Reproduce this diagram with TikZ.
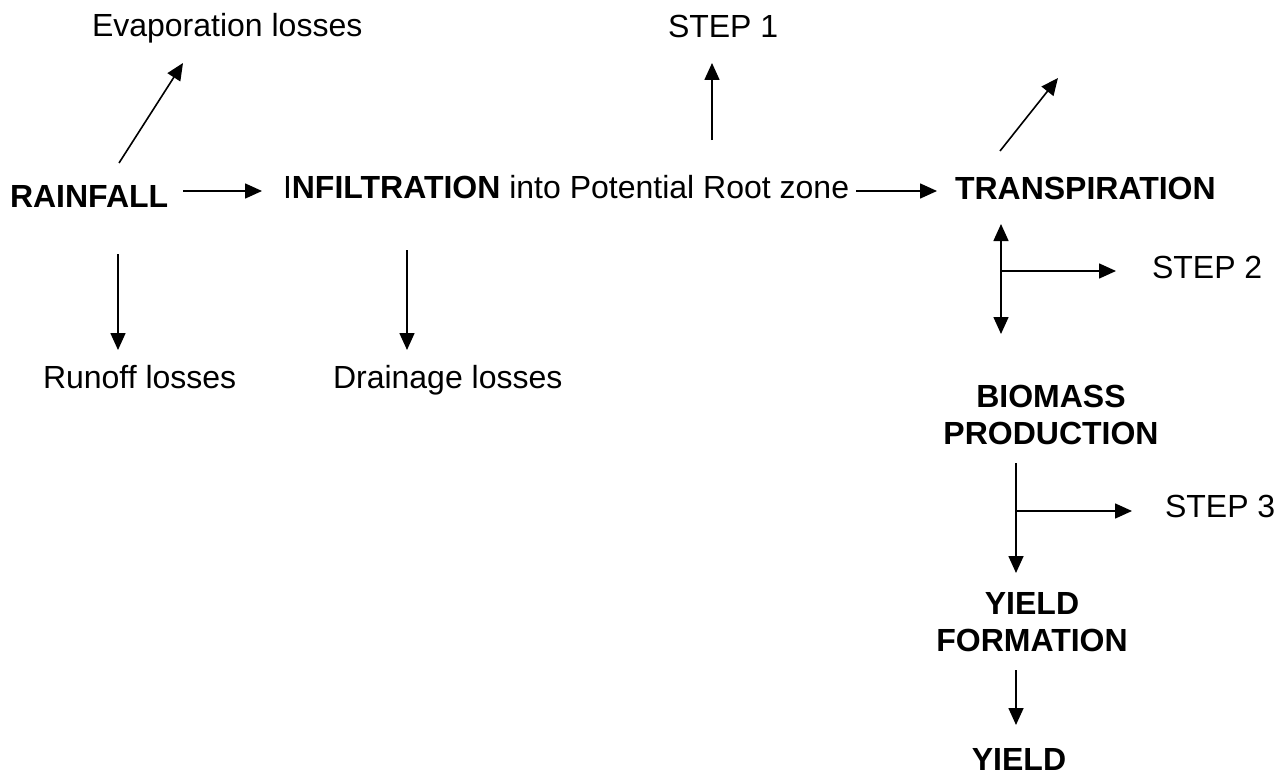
\documentclass[tikz,border=0pt]{standalone}
\usepackage{fontspec}
\setmainfont{Liberation Sans}
\usetikzlibrary{arrows.meta}
\tikzset{
  lbl/.style={inner sep=0pt, outer sep=0pt, font=\fontsize{32}{37}\selectfont},
  blbl/.style={lbl, font=\fontsize{32}{37}\selectfont\bfseries, align=center},
  arr/.style={line width=1.6pt, -{Triangle[length=17pt,width=15pt]}},
  darr/.style={line width=1.6pt, {Triangle[length=17pt,width=15pt]}-{Triangle[length=17pt,width=15pt]}}
}
\begin{document}
\begin{tikzpicture}[x=1pt,y=-1pt]
\useasboundingbox[fill=white] (0,0) rectangle (1288,776);
% texts
\node[lbl, anchor=base west] (evap) at (92,37) {Evaporation losses};
\node[lbl, anchor=base west, font=\fontsize{32}{37}\selectfont\bfseries] (rain) at (10,207) {RAINFALL};
\node[lbl, anchor=base west] (infil) at (283,198) {I\textbf{NFILTRATION} into Potential Root zone};
\node[lbl, anchor=base west] (step1) at (668,38) {STEP 1};
\node[lbl, anchor=base west, font=\fontsize{32}{37}\selectfont\bfseries] (trans) at (955,199) {TRANSPIRATION};
\node[lbl, anchor=base west] (step2) at (1152,278) {STEP 2};
\node[lbl, anchor=base west] (runoff) at (43,388) {Runoff losses};
\node[lbl, anchor=base west] (drain) at (333,388) {Drainage losses};
\node[blbl, anchor=north] (bio) at (1051,385) {BIOMASS\\PRODUCTION};
\node[lbl, anchor=base west] (step3) at (1165,517) {STEP 3};
\node[blbl, anchor=north] (yf) at (1032,592) {YIELD\\FORMATION};
\node[blbl, anchor=north] (yield) at (1019,748) {YIELD};
% connector end points
\coordinate (evS) at (119,163);  \coordinate (evT) at (183,63);
\coordinate (riS) at (183,191);  \coordinate (riT) at (262,191);
\coordinate (s1S) at (712,140);  \coordinate (s1T) at (712,63);
\coordinate (itS) at (856,191);  \coordinate (itT) at (937,191);
\coordinate (trS) at (1000,151); \coordinate (trT) at (1058,78);
\coordinate (dbU) at (1001,224); \coordinate (dbD) at (1001,334);
\coordinate (s2S) at (1001,271); \coordinate (s2T) at (1116,271);
\coordinate (roS) at (118,254);  \coordinate (roT) at (118,350);
\coordinate (drS) at (407,250);  \coordinate (drT) at (407,350);
\coordinate (byS) at (1016,463); \coordinate (byT) at (1016,573);
\coordinate (s3S) at (1016,511); \coordinate (s3T) at (1132,511);
\coordinate (yyS) at (1016,670); \coordinate (yyT) at (1016,725);
% connectors
\draw[arr] (evS) -- (evT);
\draw[arr] (riS) -- (riT);
\draw[arr] (s1S) -- (s1T);
\draw[arr] (itS) -- (itT);
\draw[arr] (trS) -- (trT);
\draw[darr] (dbU) -- (dbD);
\draw[arr] (s2S) -- (s2T);
\draw[arr] (roS) -- (roT);
\draw[arr] (drS) -- (drT);
\draw[arr] (byS) -- (byT);
\draw[arr] (s3S) -- (s3T);
\draw[arr] (yyS) -- (yyT);
\end{tikzpicture}
\end{document}
